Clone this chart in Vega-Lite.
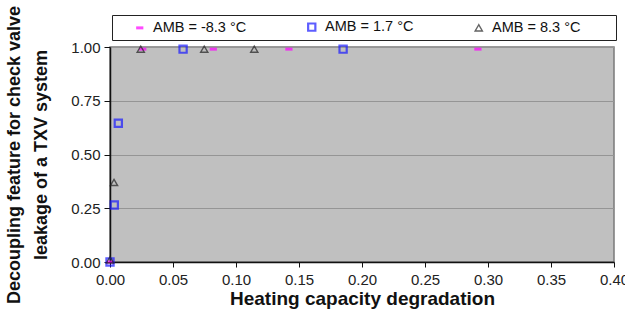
{
  "$schema": "https://vega.github.io/schema/vega-lite/v6.json",
  "width": 504,
  "height": 215,
  "autosize": {"type": "none"},
  "padding": {"left": 110, "top": 47, "right": 11, "bottom": 60},
  "background": "white",
  "config": {
    "font": "Liberation Sans",
    "view": {"fill": "#C0C0C0", "stroke": "#7a7a7a", "strokeWidth": 1.5}
  },
  "data": {
    "values": [
      {"series": "AMB = -8.3 °C", "x": 0.0, "y": 0.0},
      {"series": "AMB = -8.3 °C", "x": 0.026, "y": 0.99},
      {"series": "AMB = -8.3 °C", "x": 0.082, "y": 0.99},
      {"series": "AMB = -8.3 °C", "x": 0.142, "y": 0.99},
      {"series": "AMB = -8.3 °C", "x": 0.292, "y": 0.99},
      {"series": "AMB = 1.7 °C", "x": 0.0, "y": 0.0},
      {"series": "AMB = 1.7 °C", "x": 0.0034, "y": 0.265},
      {"series": "AMB = 1.7 °C", "x": 0.0066, "y": 0.645},
      {"series": "AMB = 1.7 °C", "x": 0.058, "y": 0.99},
      {"series": "AMB = 1.7 °C", "x": 0.185, "y": 0.99},
      {"series": "AMB = 8.3 °C", "x": 0.0, "y": 0.01},
      {"series": "AMB = 8.3 °C", "x": 0.0032, "y": 0.37},
      {"series": "AMB = 8.3 °C", "x": 0.0244, "y": 0.99},
      {"series": "AMB = 8.3 °C", "x": 0.0748, "y": 0.99},
      {"series": "AMB = 8.3 °C", "x": 0.1145, "y": 0.99}
    ]
  },
  "mark": {"type": "point", "filled": false, "size": 52, "clip": false},
  "encoding": {
    "x": {
      "field": "x", "type": "quantitative",
      "scale": {"domain": [0, 0.4], "nice": false, "zero": true},
      "axis": {
        "title": "Heating capacity degradation",
        "titleFontSize": 19, "titleFontWeight": "bold", "titleColor": "#111",
        "titlePadding": 2,
        "values": [0, 0.05, 0.1, 0.15, 0.2, 0.25, 0.3, 0.35, 0.4],
        "format": ".2f", "labelFontSize": 15, "labelColor": "#222",
        "labelPadding": 5, "labelFlush": false,
        "tickSize": 5, "tickColor": "#111", "domainColor": "#111", "domainWidth": 1.5,
        "grid": false
      }
    },
    "y": {
      "field": "y", "type": "quantitative",
      "scale": {"domain": [0, 1], "nice": false},
      "axis": {
        "title": ["Decoupling feature for check valve", "leakage of a TXV system"],
        "titleFontSize": 18, "titleFontWeight": "bold", "titleColor": "#111",
        "titlePadding": 20, "titleLineHeight": 27,
        "values": [0, 0.25, 0.5, 0.75, 1],
        "format": ".2f", "labelFontSize": 15, "labelColor": "#222",
        "labelPadding": 4, "labelFlush": false,
        "tickSize": 6, "tickColor": "#111", "domainColor": "#111", "domainWidth": 1.5,
        "grid": true, "gridColor": "#959595", "gridWidth": 1.2
      }
    },
    "shape": {
      "field": "series", "type": "nominal",
      "scale": {
        "domain": ["AMB = -8.3 °C", "AMB = 1.7 °C", "AMB = 8.3 °C"],
        "range": ["stroke", "square", "triangle-up"]
      },
      "legend": null
    },
    "strokeWidth": {
      "field": "series", "type": "nominal",
      "scale": {
        "domain": ["AMB = -8.3 °C", "AMB = 1.7 °C", "AMB = 8.3 °C"],
        "range": [3, 1.4, 1.6]
      },
      "legend": null
    },
    "color": {
      "field": "series", "type": "nominal",
      "scale": {
        "domain": ["AMB = -8.3 °C", "AMB = 1.7 °C", "AMB = 8.3 °C"],
        "range": ["#FF00FF", "#1a1aff", "#222222"]
      },
      "legend": {
        "title": " ",
        "titleOrient": "right",
        "titlePadding": 31,
        "orient": "none",
        "legendX": 2,
        "legendY": -32,
        "direction": "horizontal",
        "strokeColor": "#222",
        "fillColor": "white",
        "padding": 4.5,
        "offset": 0,
        "symbolOffset": 16,
        "columnPadding": 42,
        "labelFontSize": 14.5,
        "labelColor": "#111",
        "labelOffset": 6,
        "symbolStrokeWidth": 1.8,
        "symbolSize": 52,
        "symbolFillColor": "transparent"
      }
    }
  }
}
